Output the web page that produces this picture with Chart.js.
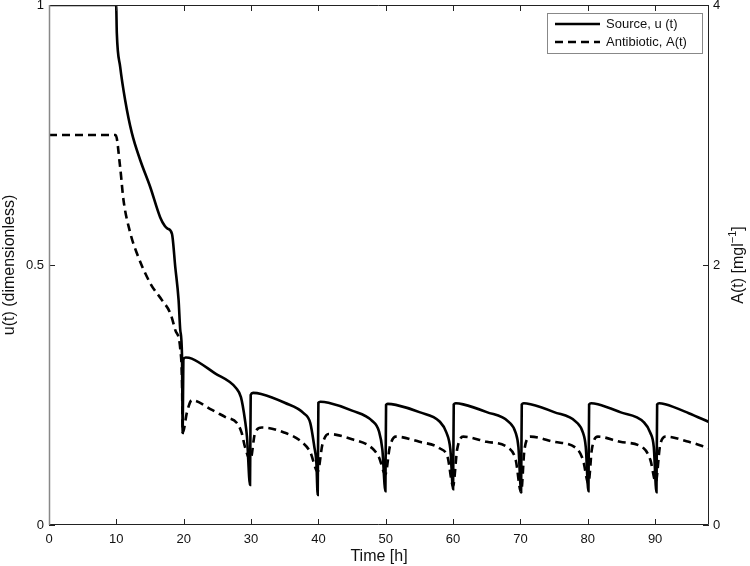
<!DOCTYPE html>
<html>
<head>
<meta charset="utf-8">
<script src="https://cdn.jsdelivr.net/npm/chart.js@4.4.1/dist/chart.umd.min.js"></script>
<style>
  html, body { margin: 0; padding: 0; background: #fff; }
  #wrap { width: 750px; height: 566px; }
</style>
</head>
<body>
<div id="wrap"><canvas id="plot" width="750" height="566"></canvas></div>
<script>
// Source u(t) - time [h] and value (dimensionless)
const srcTime = [0, 9.97, 10.07, 10.57, 11.31, 12.3, 13.54, 15.03, 16.5, 17.2, 17.6, 18.26, 18.75, 19.24, 19.49, 19.75, 19.85, 19.95,
  20.3, 21.2, 24.6, 27.8, 28.5, 29.1, 29.4, 29.85, 29.95,
  30.3, 31.5, 35.0, 37.8, 38.8, 39.4, 39.7, 39.9, 40.0,
  40.3, 41.5, 45, 48, 49, 49.5, 49.95, 50.05,
  50.3, 51.5, 55, 58, 59, 59.6, 60.0, 60.1,
  60.4, 61.5, 65, 68.3, 69.3, 69.7, 70.1, 70.2,
  70.5, 71.5, 75, 78.3, 79.3, 79.7, 80.1, 80.2,
  80.5, 81.5, 84.8, 88.3, 89.3, 89.8, 90.2, 90.3,
  90.6, 91.5, 95, 98];
const srcVal = [1, 1, 0.946, 0.881, 0.817, 0.754, 0.702, 0.65, 0.592, 0.575, 0.57, 0.56, 0.496, 0.433, 0.375, 0.325, 0.177, 0.318,
  0.322, 0.32, 0.292, 0.263, 0.246, 0.202, 0.169, 0.077, 0.25,
  0.254, 0.252, 0.235, 0.215, 0.196, 0.15, 0.12, 0.058, 0.235,
  0.237, 0.235, 0.22, 0.2, 0.18, 0.145, 0.065, 0.231,
  0.233, 0.231, 0.217, 0.199, 0.178, 0.145, 0.069, 0.232,
  0.234, 0.232, 0.217, 0.198, 0.177, 0.15, 0.066, 0.232,
  0.234, 0.232, 0.217, 0.198, 0.177, 0.15, 0.065, 0.232,
  0.234, 0.232, 0.217, 0.198, 0.177, 0.15, 0.063, 0.232,
  0.234, 0.232, 0.215, 0.198];

// Antibiotic A(t) - time [h] and concentration [mg/l]
const abxTime = [0, 9.9, 10.57, 11.06, 12.05, 13.05, 15.03, 16.77, 18.0, 18.75, 19.5, 19.75, 19.85,
  20.5, 21.2, 24.2, 26.2, 27.9, 28.6, 29.1, 29.9,
  30.6, 31.6, 35, 37.5, 38.8, 39.9,
  40.6, 41.5, 45, 48, 49, 49.95,
  50.6, 51.5, 55, 58, 59.2, 60.0,
  60.6, 61.5, 65, 68.3, 69.3, 70.1,
  70.6, 71.5, 75, 78.3, 79.3, 80.1,
  80.6, 81.5, 84.8, 88.3, 89.3, 90.1,
  90.7, 91.5, 95, 98];
const abxVal = [3.0, 3.0, 2.75, 2.5, 2.25, 2.09, 1.86, 1.73, 1.63, 1.5, 1.35, 1.1, 0.71,
  0.87, 0.96, 0.885, 0.83, 0.785, 0.71, 0.6, 0.5,
  0.71, 0.75, 0.71, 0.64, 0.56, 0.41,
  0.62, 0.70, 0.66, 0.59, 0.52, 0.39,
  0.6, 0.68, 0.64, 0.59, 0.52, 0.3,
  0.58, 0.68, 0.64, 0.59, 0.5, 0.25,
  0.58, 0.68, 0.64, 0.59, 0.5, 0.32,
  0.58, 0.68, 0.64, 0.59, 0.5, 0.33,
  0.6, 0.68, 0.64, 0.59];

// axis ticks
const xTicks = [0, 10, 20, 30, 40, 50, 60, 70, 80, 90];
const uTicks = [0, 0.5, 1];
const aTicks = [0, 2, 4];

const FONT = "'Liberation Sans', Arial, Helvetica, sans-serif";

// box round the plot, inward ticks, right title and the legend
const framePlugin = {
  id: 'frame',
  afterDraw(chart) {
    const { ctx, chartArea: a, scales } = chart;
    ctx.save();
    ctx.lineWidth = 1;
    ctx.strokeStyle = '#222';
    ctx.beginPath();
    xTicks.forEach(v => {
      const px = Math.round(scales.x.getPixelForValue(v)) + 0.5;
      ctx.moveTo(px, a.bottom); ctx.lineTo(px, a.bottom - 6);
      ctx.moveTo(px, a.top); ctx.lineTo(px, a.top + 6);
    });
    uTicks.forEach(v => {
      const py = Math.round(scales.y.getPixelForValue(v)) + 0.5;
      ctx.moveTo(a.left, py); ctx.lineTo(a.left + 6, py);
    });
    aTicks.forEach(v => {
      const py = Math.round(scales.y1.getPixelForValue(v)) + 0.5;
      ctx.moveTo(a.right, py); ctx.lineTo(a.right - 6, py);
    });
    ctx.stroke();

    // frame
    ctx.beginPath();
    ctx.moveTo(a.left, a.top + 0.5); ctx.lineTo(a.right - 0.5, a.top + 0.5);
    ctx.lineTo(a.right - 0.5, a.bottom - 0.5); ctx.lineTo(a.left, a.bottom - 0.5);
    ctx.stroke();
    ctx.strokeStyle = '#888';
    ctx.lineWidth = 1.5;
    ctx.beginPath();
    ctx.moveTo(a.left + 0.5, a.top); ctx.lineTo(a.left + 0.5, a.bottom);
    ctx.stroke();

    // right axis title, reads bottom to top
    ctx.save();
    ctx.translate(739, (a.top + a.bottom) / 2);
    ctx.rotate(-Math.PI / 2);
    ctx.fillStyle = '#111';
    ctx.textBaseline = 'middle';
    ctx.font = '16px ' + FONT;
    const p1 = 'A(t) [mgl', p2 = '\u22121', p3 = ']';
    const w1 = ctx.measureText(p1).width, w3 = ctx.measureText(p3).width;
    ctx.font = '11px ' + FONT;
    const w2 = ctx.measureText(p2).width;
    let x0 = -(w1 + w2 + w3) / 2;
    ctx.font = '16px ' + FONT;
    ctx.textAlign = 'left';
    ctx.fillText(p1, x0, 0);
    ctx.font = '11px ' + FONT;
    ctx.fillText(p2, x0 + w1, -6);
    ctx.font = '16px ' + FONT;
    ctx.fillText(p3, x0 + w1 + w2, 0);
    ctx.restore();

    // legend box
    const lx = 547, ly = 13, lw = 155, lh = 40;
    ctx.fillStyle = '#fff';
    ctx.fillRect(lx, ly, lw, lh);
    ctx.strokeStyle = '#888';
    ctx.lineWidth = 1;
    ctx.strokeRect(lx + 0.5, ly + 0.5, lw, lh);
    ctx.font = '13px ' + FONT;
    ctx.fillStyle = '#111';
    ctx.textBaseline = 'middle';
    chart.data.datasets.forEach((ds, i) => {
      const yy = ly + 11 + i * 18;
      ctx.strokeStyle = ds.borderColor;
      ctx.lineWidth = ds.borderWidth;
      ctx.setLineDash(ds.borderDash || []);
      ctx.beginPath();
      ctx.moveTo(lx + 8, yy); ctx.lineTo(lx + 53, yy);
      ctx.stroke();
      ctx.setLineDash([]);
      ctx.fillText(ds.label, lx + 59, yy);
    });
    ctx.restore();
  }
};

const plainLabel = v => String(v);

const ctx = document.getElementById('plot').getContext('2d');
new Chart(ctx, {
  type: 'line',
  data: {
    datasets: [{
      label: 'Source, u (t)',
      data: srcTime.map((t, i) => ({ x: t, y: srcVal[i] })),
      borderColor: '#000',
      borderWidth: 2.6,
      pointRadius: 0,
      fill: false,
      cubicInterpolationMode: 'monotone',
      yAxisID: 'y'
    }, {
      label: 'Antibiotic, A(t)',
      data: abxTime.map((t, i) => ({ x: t, y: abxVal[i] })),
      borderColor: '#000',
      borderWidth: 2.6,
      borderDash: [8, 5],
      pointRadius: 0,
      fill: false,
      cubicInterpolationMode: 'monotone',
      yAxisID: 'y1'
    }]
  },
  options: {
    responsive: false,
    animation: false,
    devicePixelRatio: 1,
    layout: { padding: { top: 5, left: 0, right: 0, bottom: 0 } },
    plugins: {
      legend: { display: false },
      tooltip: { enabled: false }
    },
    scales: {
      x: {
        type: 'linear',
        min: 0,
        max: 98,
        afterBuildTicks: s => { s.ticks = xTicks.map(v => ({ value: v })); },
        afterFit: s => { s.height = 41; s.paddingLeft = 0; s.paddingRight = 0; },
        grid: { display: false, drawTicks: false },
        border: { display: false },
        ticks: { color: '#111', font: { family: FONT, size: 13 }, padding: 7, maxRotation: 0, callback: plainLabel },
        title: { display: true, text: 'Time [h]', color: '#111', font: { family: FONT, size: 16 }, padding: { top: 0, bottom: 0 } }
      },
      y: {
        position: 'left',
        min: 0,
        max: 1,
        afterBuildTicks: s => { s.ticks = uTicks.map(v => ({ value: v })); },
        afterFit: s => { s.width = 49; s.paddingTop = 0; s.paddingBottom = 0; },
        grid: { display: false, drawTicks: false },
        border: { display: false },
        ticks: { color: '#111', font: { family: FONT, size: 13 }, padding: 5, callback: plainLabel },
        title: { display: true, text: 'u(t) (dimensionless)', color: '#111', font: { family: FONT, size: 16 }, padding: { top: 0, bottom: 0 } }
      },
      y1: {
        position: 'right',
        min: 0,
        max: 4,
        afterBuildTicks: s => { s.ticks = aTicks.map(v => ({ value: v })); },
        afterFit: s => { s.width = 41; s.paddingTop = 0; s.paddingBottom = 0; },
        grid: { display: false, drawTicks: false },
        border: { display: false },
        ticks: { color: '#111', font: { family: FONT, size: 13 }, padding: 4, callback: plainLabel }
      }
    }
  },
  plugins: [framePlugin]
});
</script>
</body>
</html>
